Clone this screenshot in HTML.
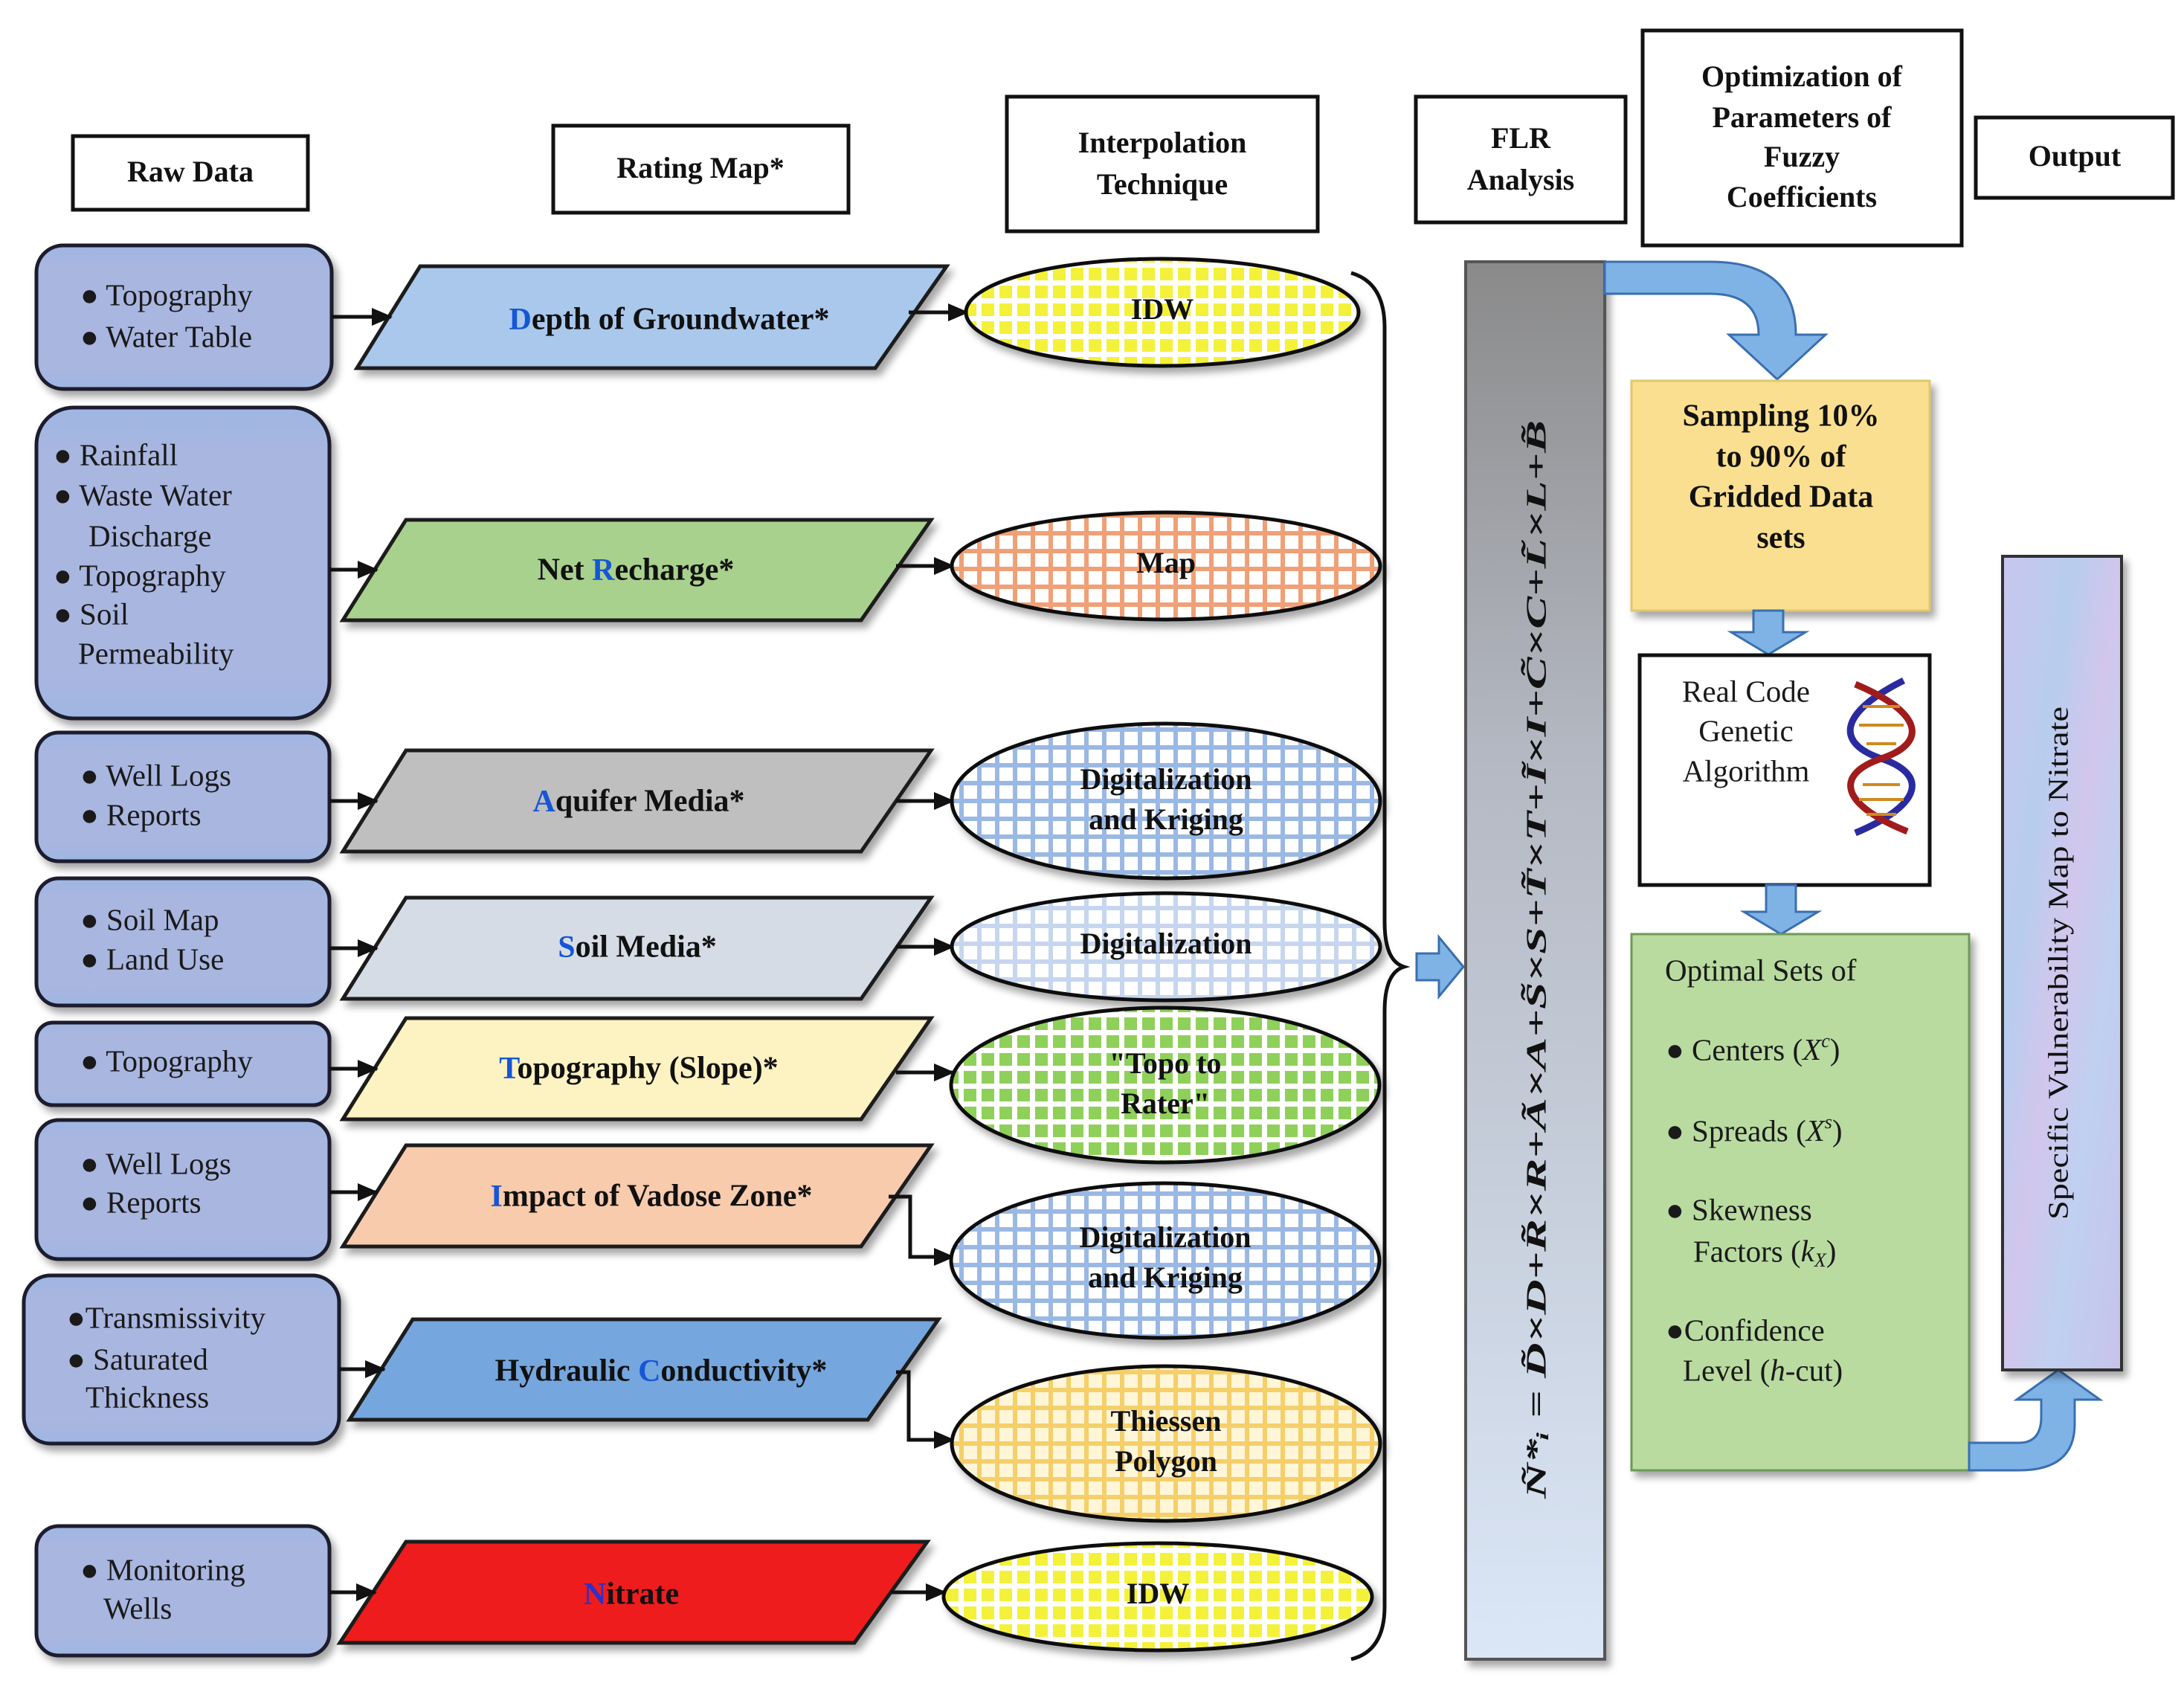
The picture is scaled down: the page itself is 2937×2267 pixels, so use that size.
<!DOCTYPE html>
<html><head><meta charset="utf-8"><style>
html,body{margin:0;padding:0;background:#fff;}
svg{display:block;}
text{font-family:"Liberation Serif",serif;fill:#111;}
.h{font-weight:bold;font-size:40px;text-anchor:middle;dominant-baseline:middle;}
.r{font-family:"Liberation Serif",serif;font-size:41px;dominant-baseline:middle;fill:#1a1a1a;}
.p{font-weight:bold;font-size:42px;text-anchor:middle;dominant-baseline:middle;}
.e{font-weight:bold;font-size:40px;text-anchor:middle;dominant-baseline:middle;}
.b{fill:#1556d6;}
</style></head><body>
<svg width="2937" height="2267" viewBox="0 0 2937 2267" xmlns="http://www.w3.org/2000/svg">
<defs>
<filter id="sh" x="-10%" y="-10%" width="130%" height="130%"><feDropShadow dx="6" dy="8" stdDeviation="5" flood-color="#000" flood-opacity="0.35"/></filter>
<linearGradient id="raw" x1="0" y1="0" x2="0" y2="1"><stop offset="0" stop-color="#9fb6e3"/><stop offset="0.15" stop-color="#a9b6e0"/><stop offset="0.85" stop-color="#a9b6e0"/><stop offset="1" stop-color="#9fb6e3"/></linearGradient>
<linearGradient id="bar" x1="0" y1="0" x2="0" y2="1"><stop offset="0" stop-color="#8a8a8a"/><stop offset="0.35" stop-color="#b4b8c2"/><stop offset="1" stop-color="#dbe7f7"/></linearGradient>
<linearGradient id="out" x1="0" y1="0" x2="1" y2="1"><stop offset="0" stop-color="#c9c6ee"/><stop offset="0.3" stop-color="#b8cdee"/><stop offset="0.5" stop-color="#d2c6ec"/><stop offset="0.7" stop-color="#bfd0f0"/><stop offset="1" stop-color="#c8c3ec"/></linearGradient>
<pattern id="gY" width="24" height="24" patternUnits="userSpaceOnUse"><rect width="24" height="24" fill="#ffffff"/><rect width="17" height="17" fill="#f4f13a"/></pattern>
<pattern id="gO" width="24" height="24" patternUnits="userSpaceOnUse"><rect width="24" height="24" fill="#f0a077"/><rect width="18" height="18" fill="#ffffff"/></pattern>
<pattern id="gB" width="24" height="24" patternUnits="userSpaceOnUse"><rect width="24" height="24" fill="#9ab8e4"/><rect width="18" height="18" fill="#ffffff"/></pattern>
<pattern id="gB2" width="24" height="24" patternUnits="userSpaceOnUse"><rect width="24" height="24" fill="#c6d6ef"/><rect width="18" height="18" fill="#ffffff"/></pattern>
<pattern id="gG" width="24" height="24" patternUnits="userSpaceOnUse"><rect width="24" height="24" fill="#ffffff"/><rect width="17" height="17" fill="#8fd05a"/></pattern>
<pattern id="gT" width="24" height="24" patternUnits="userSpaceOnUse"><rect width="24" height="24" fill="#f5cf6a"/><rect width="18" height="18" fill="#fff6d8"/></pattern>
<marker id="ah" markerWidth="28" markerHeight="24" refX="26" refY="12" orient="auto" markerUnits="userSpaceOnUse" viewBox="0 0 28 24"><path d="M0,0 L28,12 L0,24 z" fill="#111"/></marker>
</defs>

<g fill="#fff" stroke="#111" stroke-width="5">
<rect x="98" y="183" width="316" height="99"/>
<rect x="744" y="169" width="397" height="117"/>
<rect x="1354" y="130" width="418" height="181"/>
<rect x="1904" y="130" width="282" height="169"/>
<rect x="2209" y="41" width="429" height="289"/>
<rect x="2657" y="158" width="265" height="108"/>
</g>
<text class="h" x="256" y="235">Raw Data</text>
<text class="h" x="942" y="230">Rating Map*</text>
<text class="h" x="1563" y="196">Interpolation</text>
<text class="h" x="1563" y="252">Technique</text>
<text class="h" x="2045" y="190">FLR</text>
<text class="h" x="2045" y="246">Analysis</text>
<text class="h" x="2423" y="107">Optimization of</text>
<text class="h" x="2423" y="162">Parameters of</text>
<text class="h" x="2423" y="215">Fuzzy</text>
<text class="h" x="2423" y="269">Coefficients</text>
<text class="h" x="2790" y="214">Output</text>

<g fill="url(#raw)" stroke="#1d1d2d" stroke-width="5" filter="url(#sh)">
<rect x="49" y="330" width="397" height="193" rx="36"/>
<rect x="49" y="548" width="394" height="418" rx="50"/>
<rect x="49" y="985" width="394" height="173" rx="30"/>
<rect x="49" y="1181" width="394" height="171" rx="30"/>
<rect x="49" y="1375" width="394" height="111" rx="22"/>
<rect x="49" y="1506" width="394" height="187" rx="30"/>
<rect x="32" y="1715" width="424" height="226" rx="36"/>
<rect x="49" y="2052" width="394" height="174" rx="30"/>
</g>
<text class="r" x="108" y="401">● Topography</text>
<text class="r" x="108" y="457">● Water Table</text>
<text class="r" x="72" y="616">● Rainfall</text>
<text class="r" x="72" y="670">● Waste Water</text>
<text class="r" x="119" y="725">Discharge</text>
<text class="r" x="72" y="778">● Topography</text>
<text class="r" x="72" y="830">● Soil</text>
<text class="r" x="105" y="883">Permeability</text>
<text class="r" x="108" y="1047">● Well Logs</text>
<text class="r" x="108" y="1100">● Reports</text>
<text class="r" x="108" y="1241">● Soil Map</text>
<text class="r" x="108" y="1294">● Land Use</text>
<text class="r" x="108" y="1431">● Topography</text>
<text class="r" x="108" y="1569">● Well Logs</text>
<text class="r" x="108" y="1621">● Reports</text>
<text class="r" x="90" y="1776">●Transmissivity</text>
<text class="r" x="90" y="1832">● Saturated</text>
<text class="r" x="115" y="1883">Thickness</text>
<text class="r" x="108" y="2115">● Monitoring</text>
<text class="r" x="139" y="2167">Wells</text>

<g stroke="#1a1a1a" stroke-width="5" filter="url(#sh)">
<polygon points="565,358 1273,358 1177,495 480,495" fill="#a9c8ec"/>
<polygon points="546,699 1252,699 1158,834 461,834" fill="#a9d18e"/>
<polygon points="546,1009 1252,1009 1158,1145 461,1145" fill="#bfbfbf"/>
<polygon points="546,1207 1252,1207 1158,1343 461,1343" fill="#d6dce5"/>
<polygon points="546,1369 1252,1369 1158,1505 461,1505" fill="#fdf2c2"/>
<polygon points="546,1540 1252,1540 1158,1676 461,1676" fill="#f8cbad"/>
<polygon points="555,1774 1262,1774 1167,1909 470,1909" fill="#74a6de"/>
<polygon points="546,2073 1247,2073 1149,2209 457,2209" fill="#ee1c1c"/>
</g>
<text class="p" x="900" y="433"><tspan class="b">D</tspan>epth of Groundwater*</text>
<text class="p" x="855" y="770">Net <tspan class="b">R</tspan>echarge*</text>
<text class="p" x="859" y="1081"><tspan class="b">A</tspan>quifer Media*</text>
<text class="p" x="857" y="1277"><tspan class="b">S</tspan>oil Media*</text>
<text class="p" x="859" y="1440"><tspan class="b">T</tspan>opography (Slope)*</text>
<text class="p" x="876" y="1612"><tspan class="b">I</tspan>mpact of Vadose Zone*</text>
<text class="p" x="889" y="1847">Hydraulic <tspan class="b">C</tspan>onductivity*</text>
<text class="p" x="849" y="2147"><tspan fill="#3030c8">N</tspan>itrate</text>

<g stroke="#111" stroke-width="5" fill="none" marker-end="url(#ah)">
<line x1="446" y1="426" x2="526" y2="426"/>
<line x1="443" y1="766" x2="507" y2="766"/>
<line x1="443" y1="1077" x2="507" y2="1077"/>
<line x1="443" y1="1275" x2="507" y2="1275"/>
<line x1="443" y1="1437" x2="507" y2="1437"/>
<line x1="443" y1="1603" x2="507" y2="1603"/>
<line x1="456" y1="1841" x2="517" y2="1841"/>
<line x1="443" y1="2141" x2="505" y2="2141"/>
<line x1="1222" y1="420" x2="1301" y2="420"/>
<line x1="1205" y1="761" x2="1282" y2="761"/>
<line x1="1205" y1="1077" x2="1282" y2="1077"/>
<line x1="1205" y1="1273" x2="1282" y2="1273"/>
<line x1="1205" y1="1442" x2="1282" y2="1442"/>
<polyline points="1195,1609 1224,1609 1224,1690 1282,1690"/>
<polyline points="1205,1845 1222,1845 1222,1936 1282,1936"/>
<line x1="1198" y1="2141" x2="1271" y2="2141"/>
</g>

<g stroke="#111" stroke-width="5" filter="url(#sh)">
<ellipse cx="1563" cy="420" rx="264" ry="72" fill="url(#gY)"/>
<ellipse cx="1568" cy="761" rx="288" ry="72" fill="url(#gO)"/>
<ellipse cx="1568" cy="1077" rx="288" ry="104" fill="url(#gB)"/>
<ellipse cx="1568" cy="1273" rx="288" ry="72" fill="url(#gB2)"/>
<ellipse cx="1567" cy="1459" rx="288" ry="104" fill="url(#gG)"/>
<ellipse cx="1567" cy="1695" rx="288" ry="104" fill="url(#gB)"/>
<ellipse cx="1568" cy="1941" rx="288" ry="104" fill="url(#gT)"/>
<ellipse cx="1557" cy="2147" rx="288" ry="72" fill="url(#gY)"/>
</g>
<text class="e" x="1563" y="420">IDW</text>
<text class="e" x="1568" y="761">Map</text>
<text class="e" x="1568" y="1052">Digitalization</text>
<text class="e" x="1568" y="1106">and Kriging</text>
<text class="e" x="1568" y="1273">Digitalization</text>
<text class="e" x="1567" y="1434">"Topo to</text>
<text class="e" x="1567" y="1488">Rater"</text>
<text class="e" x="1567" y="1668">Digitalization</text>
<text class="e" x="1567" y="1722">and Kriging</text>
<text class="e" x="1568" y="1915">Thiessen</text>
<text class="e" x="1568" y="1969">Polygon</text>
<text class="e" x="1557" y="2147">IDW</text>

<path d="M1817,367 Q1862,380 1862,440 L1862,1240 Q1862,1292 1888,1300 Q1862,1308 1862,1360 L1862,2160 Q1862,2220 1817,2231" fill="none" stroke="#111" stroke-width="5"/>

<path d="M1905,1282 L1935,1282 L1935,1260 L1968,1300 L1935,1340 L1935,1318 L1905,1318 Z" fill="#7fb3e6" stroke="#3a6fb0" stroke-width="3"/>

<rect x="1971" y="352" width="187" height="1879" fill="url(#bar)" stroke="#555" stroke-width="4" filter="url(#sh)"/>
<text transform="translate(2070,1290) rotate(-90)" text-anchor="middle" font-size="38" font-style="italic" font-weight="bold" textLength="1450" lengthAdjust="spacingAndGlyphs" dominant-baseline="middle">Ñ*ᵢ = D̃×D+R̃×R+Ã×A+S̃×S+T̃×T+Ĩ×I+C̃×C+L̃×L+B̃</text>

<path d="M2158,352 L2300,352 Q2415,352 2415,450 L2455,450 L2390,510 L2325,450 L2365,450 Q2365,395 2300,395 L2158,395 Z" fill="#7fb3e6" stroke="#3a6fb0" stroke-width="3"/>

<rect x="2194" y="512" width="401" height="309" fill="#f9df8f" stroke="#e0c870" stroke-width="3" filter="url(#sh)"/>
<text class="p" x="2395" y="563">Sampling 10%</text>
<text class="p" x="2395" y="618">to 90% of</text>
<text class="p" x="2395" y="672">Gridded Data</text>
<text class="p" x="2395" y="727">sets</text>

<path d="M2358,821 L2398,821 L2398,850 L2428,850 L2378,880 L2328,850 L2358,850 Z" fill="#7fb3e6" stroke="#3a6fb0" stroke-width="3"/>

<rect x="2205" y="881" width="390" height="309" fill="#fff" stroke="#111" stroke-width="5"/>
<text class="r" x="2348" y="934" text-anchor="middle" font-size="40">Real Code</text>
<text class="r" x="2348" y="987" text-anchor="middle" font-size="40">Genetic</text>
<text class="r" x="2348" y="1041" text-anchor="middle" font-size="40">Algorithm</text>
<g fill="none" stroke-width="9">
<path d="M2560,915 C2470,960 2470,1000 2530,1020 C2590,1040 2590,1080 2495,1120" stroke="#2a2aa0"/>
<path d="M2495,920 C2590,960 2590,1000 2530,1020 C2470,1040 2470,1080 2565,1118" stroke="#a01c1c"/>
<g stroke="#d08a20" stroke-width="4"><line x1="2505" y1="950" x2="2555" y2="950"/><line x1="2500" y1="975" x2="2560" y2="975"/><line x1="2510" y1="1000" x2="2550" y2="1000"/><line x1="2505" y1="1055" x2="2555" y2="1055"/><line x1="2500" y1="1075" x2="2560" y2="1075"/><line x1="2510" y1="1095" x2="2550" y2="1095"/></g>
</g>

<path d="M2375,1190 L2415,1190 L2415,1226 L2445,1226 L2395,1256 L2345,1226 L2375,1226 Z" fill="#7fb3e6" stroke="#3a6fb0" stroke-width="3"/>

<rect x="2194" y="1256" width="454" height="721" fill="#b9dba0" stroke="#6e9a58" stroke-width="3" filter="url(#sh)"/>
<text class="r" x="2239" y="1309" font-size="40">Optimal Sets of</text>
<text class="r" x="2240" y="1416" font-size="40">● Centers (<tspan font-style="italic">X</tspan><tspan font-size="26" dy="-14" font-style="italic">c</tspan><tspan dy="14">)</tspan></text>
<text class="r" x="2240" y="1525" font-size="40">● Spreads (<tspan font-style="italic">X</tspan><tspan font-size="26" dy="-14" font-style="italic">s</tspan><tspan dy="14">)</tspan></text>
<text class="r" x="2240" y="1631" font-size="40">● Skewness</text>
<text class="r" x="2277" y="1687" font-size="40">Factors (<tspan font-style="italic">k</tspan><tspan font-size="26" dy="10" font-style="italic">X</tspan><tspan dy="-10">)</tspan></text>
<text class="r" x="2240" y="1793" font-size="40">●Confidence</text>
<text class="r" x="2263" y="1847" font-size="40">Level (<tspan font-style="italic">h</tspan>-cut)</text>

<path d="M2648,1940 L2715,1940 Q2745,1940 2745,1905 L2745,1882 L2712,1882 L2768,1842 L2824,1882 L2790,1882 L2790,1915 Q2790,1977 2715,1977 L2648,1977 Z" fill="#7fb3e6" stroke="#3a6fb0" stroke-width="3"/>

<rect x="2693" y="748" width="160" height="1094" fill="url(#out)" stroke="#333" stroke-width="4" filter="url(#sh)"/>
<text transform="translate(2772,1295) rotate(-90)" text-anchor="middle" font-size="38" dominant-baseline="middle" textLength="690" lengthAdjust="spacingAndGlyphs">Specific Vulnerability Map to Nitrate</text>
</svg>
</body></html>
